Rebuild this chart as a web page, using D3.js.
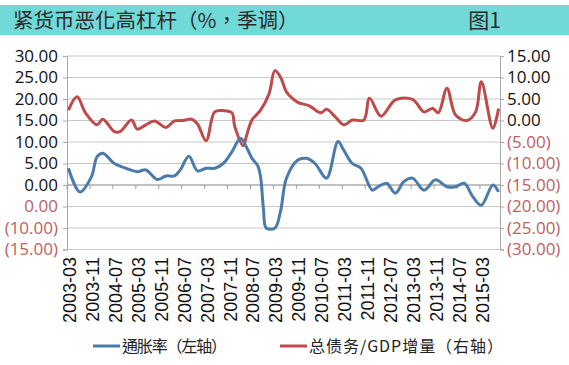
<!DOCTYPE html>
<html>
<head>
<meta charset="utf-8">
<script src="https://cdn.jsdelivr.net/npm/d3@7"></script>
<style>
  body { margin: 0; background: #fff; }
  svg { display: block; font-family: "Open Sans", "Noto Sans CJK SC", sans-serif; }
</style>
</head>
<body>
<div id="chart"></div>
<script>
// inflation, left axis
const inflationDates = ["2003-03","2003-07","2003-11","2004-01","2004-03","2004-07","2004-11","2005-03","2005-06","2005-10",
  "2006-01","2006-04","2006-06","2006-09","2006-12","2007-03","2007-06","2007-09","2007-12","2008-03","2008-05","2008-07",
  "2008-09","2008-10","2008-11","2008-12","2009-03","2009-05","2009-07","2009-11","2010-02","2010-05","2010-09","2011-01",
  "2011-03","2011-06","2011-09","2012-01","2012-03","2012-06","2012-09","2012-12","2013-03","2013-07","2013-11","2014-03",
  "2014-06","2014-09","2014-12","2015-03","2015-07","2015-09"];
const inflationValues = [3.9,-1.6,1.9,6.6,7.4,5.0,3.9,3.1,3.5,1.3,
  2.1,2.1,3.5,6.7,3.3,3.9,3.9,5.0,7.7,10.9,8.9,6.2,
  4.5,1.9,-5.5,-10.0,-10.0,-6.0,1.5,5.8,6.2,5.0,1.6,10.1,
  8.1,5.0,3.9,-1.2,-0.4,0.4,-1.9,0.8,1.6,-1.2,1.2,-0.4,
  -0.4,0.4,-2.7,-4.7,0.0,-1.6];

// total debt / GDP increment, right axis
const debtDates = ["2003-03","2003-06","2003-09","2004-01","2004-03","2004-07","2004-09","2005-01","2005-03","2005-06",
  "2005-09","2006-01","2006-04","2006-07","2006-10","2006-12","2007-03","2007-06","2007-09","2007-12","2008-01","2008-04",
  "2008-05","2008-07","2008-10","2009-01","2009-03","2009-05","2009-07","2009-09","2009-11","2010-03","2010-07","2010-09",
  "2010-12","2011-03","2011-06","2011-10","2011-12","2012-04","2012-09","2013-03","2013-07","2013-10","2013-12","2014-03",
  "2014-06","2014-10","2015-01","2015-03","2015-07","2015-09"];
const debtValues = [2.4,5.5,1.7,-1.0,0.3,-2.6,-2.6,0.1,-2.0,-1.0,
  -0.1,-1.6,-0.1,0.0,0.3,-0.8,-4.7,2.0,2.3,1.8,-1.4,-5.9,
  -3.8,0.1,2.4,6.3,11.6,10.0,6.7,5.2,4.2,3.4,1.8,2.6,
  0.9,-1.0,0.1,0.1,5.2,1.0,4.8,4.9,2.0,2.8,1.8,7.5,
  1.3,0.0,2.0,9.0,-1.8,2.8];

const xLabels = ["2003-03","2003-11","2004-07","2005-03","2005-11","2006-07","2007-03","2007-11","2008-07","2009-03",
  "2009-11","2010-07","2011-03","2011-11","2012-07","2013-03","2013-11","2014-07","2015-03"];
const leftTicks = [30,25,20,15,10,5,0,-5,-10,-15];
const leftTickLabels = ["30.00","25.00","20.00","15.00","10.00","5.00","0.00","0.00","(10.00)","(15.00)"];
const rightTicks = [15,10,5,0,-5,-10,-15,-20,-25,-30];

const W = 569, H = 365;
const plotL = 67, plotR = 500, plotT = 56, plotB = 249.5;
const nMonths = 151;
const blue = "#4a7bab", red = "#bd4b4b", negRed = "#c0605e";
const cjk = "Noto Sans CJK TC";

function monthIndex(s) {
    let p = s.split("-");
    return (+p[0] - 2003) * 12 + (+p[1] - 3);
}

const svg = d3.select("#chart").append("svg").attr("width", W).attr("height", H);

// title band
svg.append("rect").attr("x", 0).attr("y", 5).attr("width", W).attr("height", 30).attr("fill", "#72d9d9");
svg.append("text").attr("x", 13).attr("y", 28)
    .attr("font-family", cjk).attr("font-size", 20.5).attr("fill", "#2a2a2a")
    .text("紧货币恶化高杠杆（%，季调）");
svg.append("text").attr("x", 501).attr("y", 28).attr("text-anchor", "end")
    .attr("font-family", cjk).attr("font-size", 21).attr("fill", "#2a2a2a")
    .text("图1");

const x = d3.scaleLinear().domain([-0.5, nMonths - 0.5]).range([plotL, plotR]);
const yL = d3.scaleLinear().domain([-15, 30]).range([plotB, plotT]);
const yR = d3.scaleLinear().domain([-30, 15]).range([plotB, plotT]);

// gridlines
svg.append("g").selectAll("line").data(leftTicks).enter().append("line")
    .attr("x1", plotL).attr("x2", plotR)
    .attr("y1", d => yL(d)).attr("y2", d => yL(d))
    .attr("stroke", "#c8c8c8").attr("stroke-width", 1.2);

// left axis
const gL = svg.append("g").attr("transform", `translate(${plotL},0)`)
    .call(d3.axisLeft(yL).tickValues(leftTicks).tickSize(4)
        .tickFormat((d, i) => leftTickLabels[i]));
gL.select(".domain").attr("stroke", "#a8a8a8");
gL.selectAll(".tick line").attr("stroke", "#a8a8a8");
gL.selectAll(".tick text").attr("font-size", 17).attr("x", -9)
    .attr("font-family", "Open Sans")
    .attr("fill", d => d < 0 ? negRed : "#111");

// right axis
const gR = svg.append("g").attr("transform", `translate(${plotR},0)`)
    .call(d3.axisRight(yR).tickValues(rightTicks).tickSize(4)
        .tickFormat(d => d < 0 ? "(" + Math.abs(d).toFixed(2) + ")" : d.toFixed(2)));
gR.select(".domain").attr("stroke", "#a8a8a8");
gR.selectAll(".tick line").attr("stroke", "#a8a8a8");
gR.selectAll(".tick text").attr("font-size", 17).attr("x", 7)
    .attr("font-family", "Open Sans")
    .attr("fill", d => d < 0 ? negRed : "#111");

// category axis at left zero
const tickBounds = d3.range(0, 20).map(k => k * 8 - 0.5);
const gX = svg.append("g").attr("transform", `translate(0,${yL(0)})`);
gX.append("line").attr("x1", plotL).attr("x2", plotR).attr("stroke", "#a0a0a0").attr("stroke-width", 1.2);
gX.selectAll(".tk").data(tickBounds.filter(d => d < nMonths)).enter().append("line")
    .attr("x1", d => x(d)).attr("x2", d => x(d)).attr("y1", 0).attr("y2", 4)
    .attr("stroke", "#a0a0a0");

svg.append("g").selectAll("text").data(xLabels).enter().append("text")
    .attr("transform", d => `translate(${x(monthIndex(d)) + 1},257) rotate(-90)`)
    .attr("text-anchor", "end").attr("dy", "0.36em")
    .attr("font-family", "Liberation Sans").attr("font-size", 18).attr("fill", "#111")
    .text(d => d);

// lines
const inflation = inflationDates.map((d, i) => ({ m: monthIndex(d), v: inflationValues[i] }));
const debt = debtDates.map((d, i) => ({ m: monthIndex(d), v: debtValues[i] }));

svg.append("path").datum(debt)
    .attr("fill", "none").attr("stroke", red).attr("stroke-width", 3).attr("stroke-linejoin", "round")
    .attr("d", d3.line().x(d => x(d.m)).y(d => yR(d.v)).curve(d3.curveCatmullRom.alpha(0.5)));
svg.append("path").datum(inflation)
    .attr("fill", "none").attr("stroke", blue).attr("stroke-width", 3).attr("stroke-linejoin", "round")
    .attr("d", d3.line().x(d => x(d.m)).y(d => yL(d.v)).curve(d3.curveCatmullRom.alpha(0.5)));

// legend
const legend = [
    { name: "通胀率（左轴）", color: blue, x: 93, w: 105 },
    { name: "总债务/GDP增量（右轴）", color: red, x: 280, w: 194 }
];
const lg = svg.append("g").selectAll("g").data(legend).enter().append("g")
    .attr("transform", d => `translate(${d.x},346)`);
lg.append("line").attr("x1", 0).attr("x2", 27).attr("stroke", d => d.color).attr("stroke-width", 3);
lg.append("text").attr("x", 29).attr("dy", "0.35em")
    .attr("font-family", cjk).attr("font-size", 16).attr("fill", "#222")
    .attr("textLength", d => d.w).attr("lengthAdjust", "spacing")
    .text(d => d.name);
</script>
</body>
</html>
